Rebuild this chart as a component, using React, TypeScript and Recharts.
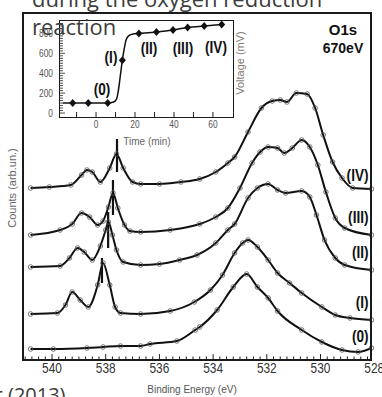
import React from 'react';
import { ComposedChart, Line, XAxis, YAxis } from 'recharts';

// ---------- Main panel: O1s spectra (binding energy eV, counts arb. units) ----------
const specIV: [number, number][] = [
  [540.8, 172], [540.1, 173], [539.3, 175], [538.9, 185], [538.7, 190], [538.5, 188], [538.2, 178],
  [537.85, 192], [537.6, 206], [537.35, 192], [537.0, 178], [536.7, 176], [536.0, 176], [535.2, 178],
  [534.5, 181], [533.9, 188], [533.45, 197], [533.2, 203], [532.7, 228], [532.2, 252], [531.8, 259],
  [531.5, 260], [531.25, 258], [530.9, 267], [530.5, 266], [530.2, 252], [529.9, 225], [529.55, 198],
  [529.2, 182], [528.8, 172], [528.1, 171],
];
const specIII: [number, number][] = [
  [540.8, 125], [539.7, 130], [539.25, 136], [538.9, 147], [538.6, 143], [538.3, 135], [538.1, 139],
  [537.9, 153], [537.73, 167], [537.55, 152], [537.3, 135], [537.1, 129], [536.7, 128], [535.6, 130],
  [534.5, 136], [533.9, 143], [533.45, 152], [533.0, 172], [532.55, 197], [532.25, 208], [531.95, 213],
  [531.6, 212], [531.35, 207], [531.05, 212], [530.7, 220], [530.4, 213], [530.1, 195], [529.8, 168],
  [529.45, 142], [529.1, 132], [528.1, 125],
];
const specII: [number, number][] = [
  [540.8, 93], [539.7, 94], [539.35, 102], [539.05, 112], [538.8, 108], [538.5, 100], [538.2, 114],
  [538.0, 130], [537.9, 138], [537.75, 125], [537.6, 110], [537.35, 98], [536.7, 95], [536.0, 96],
  [535.25, 100], [534.6, 105], [533.9, 117], [533.45, 130], [533.2, 136], [532.7, 162], [532.35, 172],
  [531.95, 176], [531.6, 170], [531.3, 167], [530.7, 169], [530.4, 163], [530.15, 145], [529.85, 120],
  [529.45, 102], [529.1, 95], [528.1, 90],
];
const specI: [number, number][] = [
  [540.8, 46], [539.8, 47], [539.5, 55], [539.25, 68], [538.95, 60], [538.65, 53], [538.3, 75],
  [538.1, 97], [537.85, 75], [537.65, 53], [537.45, 47], [536.7, 46], [535.6, 49], [534.7, 58],
  [534.1, 70], [533.65, 85], [533.2, 107], [532.9, 117], [532.7, 120], [532.35, 113], [531.95, 100],
  [531.6, 87], [531.15, 77], [530.7, 67], [529.95, 53], [529.45, 45], [528.9, 42], [528.1, 40],
];
const spec0: [number, number][] = [
  [540.8, 11], [539.95, 11], [538.7, 12], [538.1, 13], [537.45, 14], [536.7, 14], [536.35, 16],
  [535.35, 19], [534.67, 30], [534.5, 33], [533.85, 50], [533.25, 73], [532.75, 86], [532.35, 73],
  [531.95, 62], [531.6, 49], [530.7, 30], [529.95, 18], [529.2, 10], [528.6, 8], [528.1, 12],
];
// vertical peak markers: [energy, low count, high count]
const peakMarkers: [number, number, number][] = [
  [537.58, 188, 221], [537.73, 145, 180], [537.91, 112, 148], [538.14, 77, 102],
];
const energyTickLabels = [540, 538, 536, 534, 532, 530, 528];
const energyDomain: [number, number] = [528, 541.1];
const energyTicks = Array.from({ length: 53 }, (_, i) => 528 + i * 0.25);

// ---------- Inset: voltage vs time ----------
const insetTime = [-12, -4, 6, 13.5, 22, 31, 39.5, 47, 55.5, 64.5];
const insetVoltage = [100, 100, 100, 530, 800, 815, 835, 860, 875, 890];
const fitTime = [-17, -4, 6, 9, 10.5, 11.5, 12.5, 13.5, 14.5, 15.5, 17, 19, 22, 31, 39.5, 47, 55.5, 64.5];
const fitVoltage = [100, 100, 101, 110, 140, 230, 380, 530, 650, 740, 780, 795, 800, 815, 835, 860, 875, 890];
const timeTicks = [-10, 0, 10, 20, 30, 40, 50, 60];
const timeTickLabels = [0, 20, 40, 60];
const voltTicks = Array.from({ length: 37 }, (_, i) => i * 25);
const voltTickLabels = [0, 200, 400, 600, 800];

const SANS = "'Liberation Sans', Arial, sans-serif";
const TITLE = "'Open Sans', sans-serif";

const spectra = [
  { id: 'IV', pts: specIV },
  { id: 'III', pts: specIII },
  { id: 'II', pts: specII },
  { id: 'I', pts: specI },
  { id: '0', pts: spec0 },
];

// condensed text (narrow face emulated by horizontal scaling)
const NText = ({ x, y, anchor = 'middle', size, bold = false, fill = '#111', sx = 0.85, children }: any) => (
  <text
    transform={`translate(${x},${y}) scale(${sx},1)`}
    textAnchor={anchor}
    fontSize={size}
    fontWeight={bold ? 'bold' : 'normal'}
    fill={fill}
    fontFamily={SANS}
  >
    {children}
  </text>
);

const MainTick = (props: any) => {
  const { x, y, payload } = props;
  const v = payload.value as number;
  const major = energyTickLabels.some((t) => Math.abs(t - v) < 1e-6);
  return (
    <g>
      {v > 528.05 && (
        <line x1={x} x2={x} y1={y} y2={y - (major ? 6 : 3.5)} stroke="#222" strokeWidth={1} />
      )}
      {major && (
        <NText x={x} y={y + 13} size={14} fill="#333" sx={0.85}>
          {v}
        </NText>
      )}
    </g>
  );
};

const InsetXTick = (props: any) => {
  const { x, y, payload } = props;
  const v = payload.value as number;
  return (
    <g>
      <line x1={x} x2={x} y1={y} y2={y - 5} stroke="#222" strokeWidth={1} />
      {timeTickLabels.includes(v) && (
        <NText x={x} y={y + 11} size={10.5} fill="#555" sx={0.8}>
          {v}
        </NText>
      )}
    </g>
  );
};

const InsetYTick = (props: any) => {
  const { x, y, payload } = props;
  const v = payload.value as number;
  const major = voltTickLabels.includes(v);
  return (
    <g>
      <line x1={x} x2={x + (major ? 5 : 3)} y1={y} y2={y} stroke="#222" strokeWidth={0.8} />
      {major && (
        <NText x={x - 7} y={y + 3.6} anchor="end" size={10.5} fill="#555" sx={0.8}>
          {v}
        </NText>
      )}
    </g>
  );
};

const Diamond = (props: any) => {
  const { cx, cy, index } = props;
  return (
    <path
      key={`dm-${index}`}
      d={`M${cx},${cy - 4} L${cx + 3.5},${cy} L${cx},${cy + 4} L${cx - 3.5},${cy} Z`}
      fill="#111"
    />
  );
};

export default function App() {
  const insetPoints = insetTime.map((t, i) => ({ t, v: insetVoltage[i] }));
  const fitPoints = fitTime.map((t, i) => ({ t, v: fitVoltage[i] }));
  return (
    <div style={{ position: 'absolute', left: 0, top: 0, width: 382, height: 397, background: '#fff', overflow: 'hidden' }}>
      <div style={{ position: 'absolute', left: 0, top: 0 }}>
        <ComposedChart width={382} height={397} margin={{ top: 13, right: 7.8, bottom: 17, left: 22.5 }}>
          <XAxis
            type="number"
            dataKey="e"
            domain={energyDomain}
            reversed
            allowDataOverflow
            ticks={energyTicks}
            interval={0}
            tick={(p: any) => <MainTick {...p} />}
            tickLine={false}
            axisLine={false}
            tickSize={0}
            tickMargin={0}
            height={20}
          />
          <YAxis type="number" dataKey="c" domain={[0, 347]} hide allowDataOverflow />
          {spectra.map((s) => (
            <Line
              key={s.id}
              data={s.pts.map(([e, c]) => ({ e, c }))}
              dataKey="c"
              type="monotone"
              stroke="#111"
              strokeWidth={2}
              dot={{ r: 2.3, fill: 'none', stroke: '#555', strokeWidth: 0.8 }}
              isAnimationActive={false}
            />
          ))}
          {peakMarkers.map(([e, lo, hi], i) => (
            <Line
              key={`pk-${i}`}
              data={[{ e, c: lo }, { e, c: hi }]}
              dataKey="c"
              type="linear"
              stroke="#111"
              strokeWidth={2.2}
              dot={false}
              isAnimationActive={false}
            />
          ))}
        </ComposedChart>
      </div>
      {/* main frame */}
      <div style={{ position: 'absolute', left: 22, top: 12, width: 350, height: 349, border: '2px solid #1a1a1a', boxSizing: 'border-box' }} />

      {/* inset */}
      <div style={{ position: 'absolute', left: 30, top: 20 }}>
        <ComposedChart width={203} height={112} margin={{ top: 1, right: 0, bottom: 0, left: 0 }}>
          <XAxis
            type="number"
            dataKey="t"
            domain={[-18.5, 70.3]}
            allowDataOverflow
            ticks={timeTicks}
            interval={0}
            tick={(p: any) => <InsetXTick {...p} />}
            tickLine={false}
            axisLine={false}
            tickSize={0}
            tickMargin={0}
            height={15}
          />
          <YAxis
            type="number"
            dataKey="v"
            domain={[-40, 925]}
            allowDataOverflow
            ticks={voltTicks}
            interval={0}
            tick={(p: any) => <InsetYTick {...p} />}
            tickLine={false}
            axisLine={false}
            tickSize={0}
            tickMargin={0}
            width={30}
          />
          <Line data={fitPoints} dataKey="v" type="monotone" stroke="#111" strokeWidth={1.5} dot={false} isAnimationActive={false} />
          <Line data={insetPoints} dataKey="v" type="linear" stroke="none" dot={(p: any) => <Diamond {...p} />} isAnimationActive={false} />
        </ComposedChart>
      </div>
      <div style={{ position: 'absolute', left: 59, top: 20, width: 175, height: 98, border: '1.5px solid #1a1a1a', boxSizing: 'border-box' }} />

      {/* text overlay */}
      <svg width={382} height={397} style={{ position: 'absolute', left: 0, top: 0 }}>
        <text x={12} y={188} transform="rotate(-90 12 188)" textAnchor="middle" dominantBaseline="central" fontSize={11} fill="#666" fontFamily={SANS}>
          Counts (arb.un.)
        </text>
        <text x={192} y={389} textAnchor="middle" dominantBaseline="central" fontSize={10} fill="#555" fontFamily={SANS}>
          Binding Energy (eV)
        </text>
        <text x={147} y={141} textAnchor="middle" dominantBaseline="central" fontSize={10} fill="#666" fontFamily={SANS}>
          Time (min)
        </text>
        <text x={240} y={63} transform="rotate(-90 240 63)" textAnchor="middle" dominantBaseline="central" fontSize={11} fill="#857b6e" fontFamily={SANS}>
          Voltage (mV)
        </text>
        <text x={343} y={35} textAnchor="middle" fontSize={15} fontWeight="bold" fill="#111" fontFamily={SANS}>O1s</text>
        <text x={343} y={53} textAnchor="middle" fontSize={14} fontWeight="bold" fill="#111" fontFamily={SANS}>670eV</text>

        {/* inset state labels */}
        <NText x={102} y={94.5} size={16} bold>(0)</NText>
        <NText x={111} y={62.5} size={16} bold>(I)</NText>
        <NText x={149} y={53.5} size={16} bold>(II)</NText>
        <NText x={183} y={53.5} size={16} bold>(III)</NText>
        <NText x={216} y={52.5} size={16} bold>(IV)</NText>

        {/* spectrum labels */}
        <NText x={368.5} y={181} anchor="end" size={16} bold>(IV)</NText>
        <NText x={368.5} y={222.5} anchor="end" size={16} bold>(III)</NText>
        <NText x={368.5} y={257.5} anchor="end" size={16} bold>(II)</NText>
        <NText x={368.5} y={307.5} anchor="end" size={16} bold>(I)</NText>
        <NText x={368.5} y={341.5} anchor="end" size={16} bold>(0)</NText>

        {/* slide text overlapping the figure */}
        <text x={32} y={7} fontSize={22} fill="#3c3c3c" fontFamily={TITLE}>during the oxygen reduction</text>
        <text x={32} y={34.5} fontSize={22} fill="#3c3c3c" fontFamily={TITLE}>reaction</text>
        <text x={-5.4} y={402} fontSize={20} fill="#3c3c3c" fontFamily={TITLE}>r (2013)</text>
      </svg>
    </div>
  );
}
